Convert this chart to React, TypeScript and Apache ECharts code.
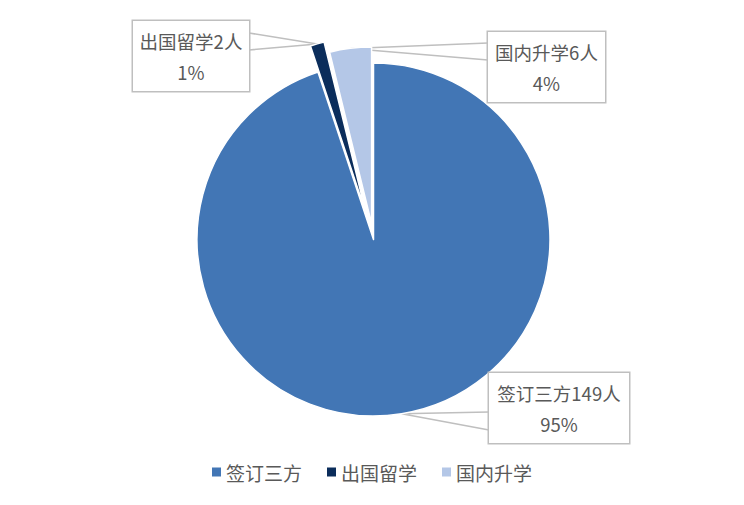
import React, { useEffect, useRef } from "react";
import * as echarts from "echarts";

// ---- data ----
const categories: string[] = ["签订三方", "出国留学", "国内升学"];
const counts: number[] = [149, 2, 6];
const unit = "人";

// ---- styling / layout ----
const colors: string[] = ["#4276B5", "#0B2D5B", "#B4C7E7"];
const explodeOffsets: number[] = [0, 27, 16];
const CX = 373.5;
const CY = 239.5;
const R = 176.5;
const FONT = '"Microsoft YaHei", "Noto Sans CJK SC", "Noto Sans", sans-serif';
const TEXT_COLOR = "#595959";
const LINE_COLOR = "#BFBFBF";

// callout boxes: centre x, top y, width, the edge the pointer leaves from, pointer y-range
const callouts = [
  { cx: 559, top: 373, w: 140, edgeX: 489, y1: 412, y2: 430 },
  { cx: 191, top: 21, w: 116, edgeX: 249, y1: 33, y2: 50 },
  { cx: 546.5, top: 32, w: 117, edgeX: 488, y1: 43, y2: 60 },
];

export default function App() {
  const ref = useRef<HTMLDivElement>(null);

  useEffect(() => {
    if (!ref.current) return;
    const chart = echarts.init(ref.current, undefined, { renderer: "svg" });

    const total = counts.reduce((a, b) => a + b, 0);
    let acc = 0;
    const mids = counts.map((v) => {
      const a0 = (acc / total) * Math.PI * 2;
      acc += v;
      const a1 = (acc / total) * Math.PI * 2;
      return (a0 + a1) / 2;
    });

    const series = categories.map((_, own) => {
      const mid = mids[own];
      const d = explodeOffsets[own];
      const cx = CX + d * Math.sin(mid);
      const cy = CY - d * Math.cos(mid);
      const tipX = cx + R * Math.sin(mid);
      const tipY = cy - R * Math.cos(mid);
      const box = callouts[own];
      return {
        type: "pie",
        name: categories[own],
        center: [cx, cy],
        radius: [0, R],
        startAngle: 90,
        clockwise: true,
        percentPrecision: 0,
        silent: true,
        z: 2 + own,
        emphasis: { disabled: true },
        data: categories.map((name, i) => ({
          name,
          value: counts[i],
          itemStyle:
            i === own
              ? { color: colors[i], borderColor: "#ffffff", borderWidth: 1.5 }
              : { color: "rgba(0,0,0,0)", borderWidth: 0 },
          label: { show: i === own },
          labelLine: { show: i === own },
        })),
        label: {
          position: "outside",
          formatter: (p: any) => `${p.name}${p.value}${unit}\n${p.percent}%`,
          fontFamily: FONT,
          fontSize: 18.5,
          lineHeight: 31,
          color: TEXT_COLOR,
          align: "center",
          width: box.w,
          padding: [4, 0],
          backgroundColor: "#ffffff",
          borderColor: LINE_COLOR,
          borderWidth: 1.5,
        },
        labelLine: {
          show: true,
          smooth: false,
          lineStyle: { color: LINE_COLOR, width: 1.5 },
        },
        labelLayout: () => ({
          x: box.cx,
          y: box.top,
          align: "center",
          verticalAlign: "top",
          labelLinePoints: [
            [box.edgeX, box.y1],
            [tipX, tipY],
            [box.edgeX, box.y2],
          ],
        }),
      };
    });

    chart.setOption({
      animation: false,
      backgroundColor: "#ffffff",
      legend: {
        left: "center",
        top: 456,
        icon: "rect",
        itemWidth: 9,
        itemHeight: 9,
        itemGap: 25,
        selectedMode: false,
        textStyle: { fontFamily: FONT, fontSize: 19, color: TEXT_COLOR, lineHeight: 22 },
        data: categories.map((name, i) => ({ name, itemStyle: { color: colors[i] } })),
      },
      series,
    });

    return () => chart.dispose();
  }, []);

  return (
    <div
      ref={ref}
      style={{ position: "fixed", left: 0, top: 0, width: 744, height: 505 }}
    />
  );
}
